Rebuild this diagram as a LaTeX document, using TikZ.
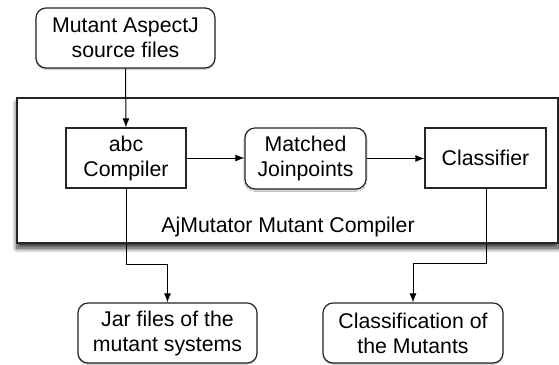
\documentclass[tikz,border=0pt]{standalone}
\usepackage{fontspec}
\setmainfont{Liberation Sans}
\usetikzlibrary{arrows.meta,shadows,shadows.blur}
\begin{document}
\begin{tikzpicture}[x=1bp,y=-1bp,
  font=\fontsize{21.3bp}{25bp}\selectfont,
  base/.style={draw=black!85,line width=1.2bp,fill=white,inner sep=0pt,align=center,anchor=center},
  roundbox/.style={base,rounded corners=10bp,blur shadow={shadow xshift=0bp,shadow yshift=-1.2bp,shadow blur steps=3,shadow blur radius=1.2bp,shadow opacity=35}},
  squarebox/.style={base},
  flow/.style={draw=black,line width=1bp,-{Latex[length=9bp,width=7bp]}}]
\useasboundingbox (0,0) rectangle (559,364);
% outer container
\node[draw=black!85,line width=1.8bp,fill=white,inner sep=0pt,minimum width=541bp,minimum height=145bp,
  blur shadow={shadow xshift=0bp,shadow yshift=-5bp,shadow blur steps=10,shadow blur radius=5bp,shadow opacity=85}]
  (outer) at (287.5,170.5) {};
\node (outerlabel) at (288,227) {AjMutator Mutant Compiler};
% nodes
\node[roundbox,minimum width=179bp,minimum height=60bp] (src) at (125.5,38) {Mutant AspectJ\\source files};
\node[squarebox,minimum width=120bp,minimum height=60bp] (abc) at (126,158) {abc\\Compiler};
\node[roundbox,minimum width=121bp,minimum height=61bp] (match) at (305.5,158.5) {Matched\\Joinpoints};
\node[squarebox,minimum width=121bp,minimum height=60bp] (cls) at (485.5,158) {Classifier};
\node[roundbox,minimum width=179bp,minimum height=60bp] (jar) at (167.5,333) {Jar files of the\\mutant systems};
\node[roundbox,minimum width=180bp,minimum height=60bp] (classif) at (413,333) {Classification of\\the Mutants};
% connectors
\coordinate (e1) at (126,264);
\coordinate (e2) at (486,263);
\draw[flow] (src.south) -- (abc.north);
\draw[flow] (abc.east) -- (abc.east -| match.west);
\draw[flow] (match.east) -- (match.east -| cls.west);
\draw[flow] (abc.south) -- (e1) -| (jar.north);
\draw[flow] (cls.south -| e2) -- (e2) -| (classif.north);
\end{tikzpicture}
\end{document}
